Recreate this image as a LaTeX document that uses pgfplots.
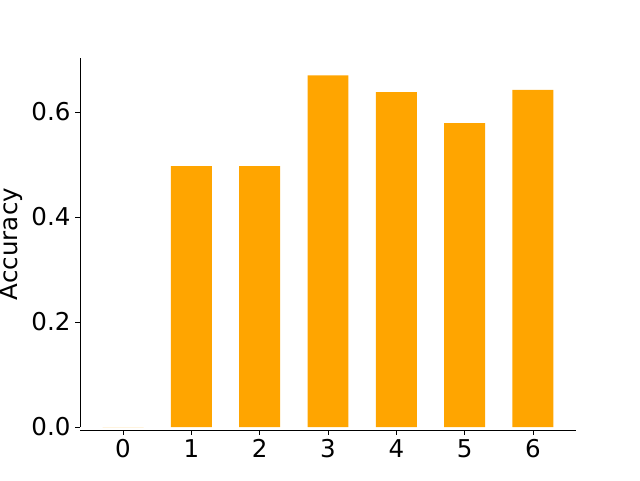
\documentclass[border=0pt]{standalone}
\usepackage{fontspec}
\setmainfont{DejaVu Sans}
\usepackage{pgfplots}
\pgfplotsset{compat=1.18}
\definecolor{barorange}{RGB}{255,165,0}

\begin{document}
\begin{tikzpicture}
  \begin{axis}[
    scale only axis,
    width=372pt, height=279pt,
    xmin=-0.63, xmax=6.63,
    ymin=-0.0057, ymax=0.7029,
    axis x line*=bottom, axis y line*=left,
    y axis line style={shorten <=2.25pt},
    tick align=outside,
    major tick length=3.65pt,
    tick style={black, line width=0.6pt},
    axis line style={black, line width=0.6pt},
    xtick={0,1,2,3,4,5,6},
    ytick={0,0.2,0.4,0.6},
    /pgf/number format/assume math mode=true,
    yticklabel style={/pgf/number format/.cd, fixed, fixed zerofill, precision=1},
    tick label style={font=\fontsize{18.4}{22}\selectfont},
    ylabel={Accuracy},
    ylabel style={font=\fontsize{18.4}{22}\selectfont, at={(axis description cs:-0.115,0.5)}, anchor=south, inner sep=0pt},
  ]
    \addplot[ybar, bar width=0.6, fill=barorange, draw=none] coordinates {
      (0,0) (1,0.497) (2,0.497) (3,0.670) (4,0.638) (5,0.579) (6,0.642)
    };
  \end{axis}
  \pgfresetboundingbox
  \path ([shift={(-60pt,-37.5pt)}]current axis.south west) rectangle ([shift={(48pt,43.5pt)}]current axis.north east);
\end{tikzpicture}
\end{document}
